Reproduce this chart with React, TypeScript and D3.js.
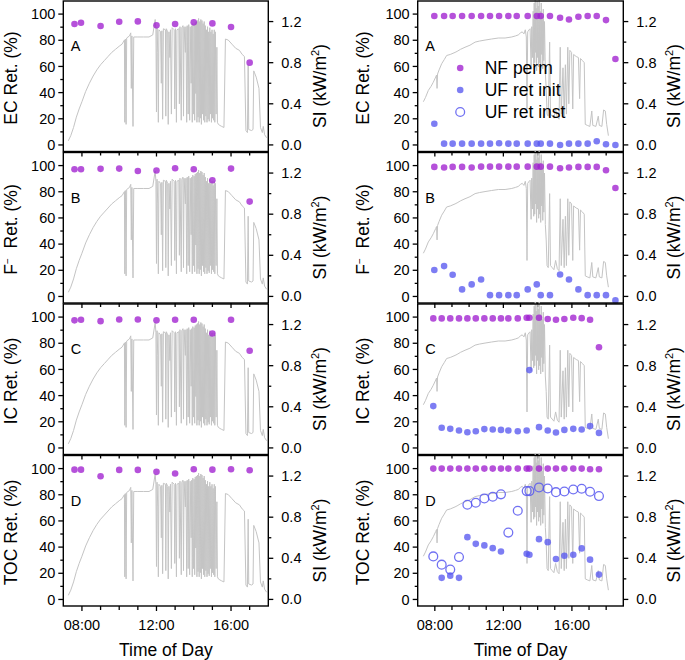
import React from "react";
import * as d3 from "d3";

// ---------- data ----------
// solar irradiance (kW/m2), left day: [hour, SI]
const siLeft: [number, number][] = [
  [7.27, 0.04], [7.4, 0.09], [7.55, 0.17], [7.7, 0.27], [7.85, 0.35], [8.0, 0.42], [8.2, 0.52], [8.4, 0.6],
  [8.6, 0.67], [8.8, 0.73], [9.0, 0.78], [9.2, 0.82], [9.4, 0.86], [9.6, 0.9], [9.8, 0.93], [10.0, 0.96],
  [10.15, 0.98], [10.28, 1.02], [10.3, 0.22], [10.33, 1.03], [10.37, 0.2], [10.4, 1.04], [10.55, 1.06],
  [10.62, 1.09], [10.65, 0.55], [10.68, 1.06], [10.74, 0.18], [10.78, 1.05], [11.0, 1.05], [11.3, 1.05],
  [11.6, 1.05], [11.8, 1.07], [11.93, 1.22], [11.97, 1.12], [12.0, 0.32], [12.03, 1.14], [12.07, 0.9],
  [12.1, 0.22], [12.13, 1.12], [12.22, 1.1], [12.26, 0.6], [12.29, 1.11], [12.33, 0.25], [12.37, 1.13],
  [12.48, 1.12], [12.5, 0.28], [12.53, 1.13], [12.6, 1.1], [12.63, 0.2], [12.67, 1.1], [12.72, 0.85],
  [12.75, 1.12], [12.8, 0.3], [12.84, 1.14], [12.95, 1.12], [12.98, 0.35], [13.02, 1.13], [13.07, 0.22],
  [13.1, 1.12], [13.2, 1.13], [13.23, 0.4], [13.26, 1.15], [13.33, 0.24], [13.36, 1.14], [13.42, 1.16],
  [13.45, 0.28], [13.48, 1.15], [13.55, 0.9], [13.58, 1.15], [13.62, 0.22], [13.65, 1.16], [13.7, 0.3],
  [13.73, 1.17], [13.78, 0.24], [13.81, 1.15], [13.86, 0.6], [13.89, 1.16], [13.92, 0.22], [13.95, 1.18],
  [13.99, 0.3], [14.02, 1.17], [14.05, 0.24], [14.08, 1.19], [14.11, 0.5], [14.14, 1.2], [14.17, 0.22],
  [14.2, 1.21], [14.23, 0.27], [14.26, 1.23], [14.29, 0.22], [14.32, 1.2], [14.35, 0.26], [14.38, 1.22],
  [14.41, 0.2], [14.44, 1.21], [14.47, 0.3], [14.5, 1.18], [14.53, 0.24], [14.56, 1.2], [14.59, 0.22],
  [14.62, 1.16], [14.65, 0.28], [14.68, 1.12], [14.71, 0.22], [14.74, 1.15], [14.77, 0.25], [14.8, 1.1],
  [14.83, 0.23], [14.86, 1.14], [14.89, 0.3], [14.92, 1.1], [14.95, 0.22], [14.98, 1.12], [15.01, 0.26],
  [15.04, 1.08], [15.07, 0.24], [15.1, 1.12], [15.13, 0.22], [15.16, 1.1], [15.2, 0.3], [15.24, 0.95],
  [15.27, 0.22], [15.32, 0.2], [15.4, 0.19], [15.5, 0.18], [15.62, 0.17], [15.7, 1.03], [15.85, 1.02],
  [16.05, 0.98], [16.25, 0.94], [16.45, 0.92], [16.6, 0.88], [16.72, 0.86], [16.8, 0.14], [16.88, 0.12],
  [16.92, 0.78], [16.95, 0.15], [17.1, 0.14], [17.18, 0.15], [17.22, 0.72], [17.35, 0.66], [17.5, 0.55],
  [17.58, 0.17], [17.68, 0.12], [17.73, 0.18], [17.8, 0.1], [17.91, 0.07],
];

// solar irradiance (kW/m2), right day: [hour, SI]
const siRight: [number, number][] = [
  [7.33, 0.42], [7.45, 0.46], [7.62, 0.53], [7.78, 0.57], [7.91, 0.61], [8.05, 0.66], [8.1, 0.68],
  [8.13, 0.55], [8.16, 0.69], [8.25, 0.73], [8.4, 0.79], [8.55, 0.83], [8.69, 0.87], [8.9, 0.88],
  [9.18, 0.9], [9.3, 0.91], [9.5, 0.93], [9.76, 0.95], [10.05, 0.97], [10.35, 1.0], [10.6, 1.01],
  [10.93, 1.02], [11.3, 1.03], [11.71, 1.04], [12.1, 1.04], [12.49, 1.05], [12.7, 1.06], [12.87, 1.07],
  [13.0, 1.09], [13.1, 1.1], [13.2, 1.08], [13.28, 1.12], [13.34, 1.05], [13.38, 0.35], [13.42, 1.1],
  [13.5, 1.12], [13.56, 1.13], [13.62, 0.75], [13.66, 1.15], [13.7, 0.85], [13.74, 1.3], [13.77, 0.78],
  [13.8, 1.38], [13.83, 0.8], [13.86, 1.42], [13.88, 0.9], [13.91, 1.33], [13.94, 0.72], [13.97, 1.4],
  [14.0, 0.85], [14.03, 1.35], [14.06, 0.76], [14.09, 1.42], [14.12, 0.8], [14.15, 1.3], [14.18, 0.72],
  [14.21, 1.38], [14.24, 0.88], [14.27, 1.25], [14.3, 0.74], [14.33, 1.32], [14.36, 0.82], [14.4, 1.2],
  [14.45, 0.7], [14.5, 0.55], [14.55, 0.3], [14.62, 0.28], [14.7, 1.0], [14.75, 0.3], [14.85, 0.28],
  [14.95, 0.26], [15.05, 0.35], [15.15, 0.27], [15.25, 0.25], [15.32, 0.95], [15.38, 0.3], [15.48, 0.75],
  [15.55, 0.28], [15.62, 0.78], [15.68, 0.3], [15.76, 0.95], [15.82, 0.4], [15.88, 0.92], [15.98, 0.9],
  [16.05, 0.35], [16.1, 0.88], [16.25, 0.86], [16.38, 0.85], [16.45, 0.45], [16.5, 0.84], [16.62, 0.82],
  [16.72, 0.8], [16.78, 0.2], [16.9, 0.19], [17.05, 0.18], [17.16, 0.33], [17.22, 0.19], [17.4, 0.18],
  [17.54, 0.28], [17.6, 0.19], [17.75, 0.18], [17.85, 0.34], [17.95, 0.33], [18.03, 0.2], [18.13, 0.09],
];

// left column (single NF series)
const leftTimes = [7.6, 7.95, 9, 10, 11, 12, 13, 14, 15, 16, 17];
const leftEC = [92.4, 93.4, 90.9, 94.2, 94.4, 91.4, 92.4, 93.7, 92.9, 90.1, 62.9];
const leftF = [97.2, 97.2, 97.5, 97.7, 95.9, 96.2, 98.0, 97.2, 88.8, 97.7, 72.5];
const leftIC = [97.5, 98.0, 96.9, 98.2, 98.2, 97.5, 98.0, 98.0, 87.5, 98.0, 74.3];
const leftTOC = [99.2, 99.2, 94.2, 99.0, 99.0, 97.5, 96.2, 99.5, 99.2, 99.5, 98.7];

// right column, panels A and B
const rightABTimes = [7.97, 8.54, 9.04, 9.59, 10.15, 10.7, 11.22, 11.75, 12.29, 12.78, 13.42, 13.95, 14.18,
  14.72, 15.31, 15.83, 16.38, 16.92, 17.45, 17.99, 18.54];
const rightECperm = [98.5, 98.5, 98.5, 98.5, 98.5, 98.5, 98.5, 98.5, 98.5, 98.5, 98.5, 98.5, 98.5,
  98.5, 97.2, 95.9, 98.0, 98.5, 98.5, 95.4, 65.7];
const rightECinit = [16.2, 1.0, 1.0, 1.0, 1.0, 1.0, 1.0, 1.3, 1.0, 1.0, 1.0, 1.0, 1.0,
  1.0, 0.0, 1.0, 1.0, 1.0, 2.8, 0.5, 0.0];
const rightFperm = [99.0, 98.5, 99.0, 99.0, 98.5, 99.2, 99.2, 99.2, 99.2, 99.2, 99.2, 99.2, 99.2,
  99.2, 98.0, 98.5, 99.0, 99.0, 99.0, 96.4, 82.9];
const rightFinit = [20.2, 23.2, 16.6, 5.4, 9.2, 13.0, 1.0, 1.0, 1.0, 1.0, 5.4, 9.2, 1.0,
  1.0, 16.8, 13.0, 5.4, 1.0, 1.0, 1.0, -3.0];

// right column, panels C and D
const rightCDTimes = [7.91, 8.4, 8.9, 9.41, 9.9, 10.39, 10.89, 11.38, 11.86, 12.29, 12.84, 13.36, 13.52,
  14.08, 14.59, 15.07, 15.56, 16.08, 16.57, 17.06, 17.58];
const rightICperm = [99.0, 99.0, 99.0, 99.0, 99.0, 99.0, 99.0, 99.0, 99.0, 99.0, 99.0, 99.5, 99.5,
  99.5, 98.5, 98.0, 98.5, 99.5, 99.2, 98.0, 76.9];
const rightICinit = [32.0, 15.4, 14.6, 13.3, 12.0, 12.8, 14.4, 14.1, 13.8, 13.3, 12.8, 13.3, 59.5,
  15.9, 13.3, 11.8, 13.8, 14.6, 14.1, 16.7, 11.5];
const rightTOCperm = [100, 100, 100, 100, 100, 100, 100, 100, 100, 100, 100, 100, 100,
  100, 100, 100, 100, 100, 100, 99.5, 99.5];
const rightTOCinit = [null, 16.5, 18.2, 16.5, 47.6, 42.5, 41.3, 39.2, 36.7, null, null, 34.9, 34.2,
  46.1, 43.8, 30.9, 33.4, 34.2, 39.0, 30.4, 19.0];
const rightTOCinst = [32.9, 26.6, 22.8, 32.4, 72.4, 73.9, 77.2, 78.5, 80.3, 51.1, 67.8, 82.8, 82.8,
  85.6, 84.8, 82.0, 82.5, 84.0, 84.6, 82.3, 79.0];

const panelLetters = ["A", "B", "C", "D"];
const xTickLabels = ["08:00", "12:00", "16:00"];
const legendLabels = ["NF perm", "UF ret init", "UF ret inst"];

// ---------- styling ----------
const FONT = "Liberation Sans, Arial, Helvetica, sans-serif";
const PURPLE = "#a020d0";
const BLUE = "#5858f0";
const GRAY = "#c4c4c4";
const W = 685;
const H = 660;
const PANEL_H = 150.5;
const PANEL_STEP = 151.5;
const PANEL_TOP0 = 1;

type Series = { values: (number | null)[]; kind: "perm" | "init" | "inst" };

interface PanelSpec {
  ylabel: string;
  letter: string;
  times: number[];
  series: Series[];
}

const leftPanels: PanelSpec[] = [
  { ylabel: "EC Ret. (%)", letter: panelLetters[0], times: leftTimes, series: [{ values: leftEC, kind: "perm" }] },
  { ylabel: "F", letter: panelLetters[1], times: leftTimes, series: [{ values: leftF, kind: "perm" }] },
  { ylabel: "IC Ret. (%)", letter: panelLetters[2], times: leftTimes, series: [{ values: leftIC, kind: "perm" }] },
  { ylabel: "TOC Ret. (%)", letter: panelLetters[3], times: leftTimes, series: [{ values: leftTOC, kind: "perm" }] },
];

const rightPanels: PanelSpec[] = [
  { ylabel: "EC Ret. (%)", letter: panelLetters[0], times: rightABTimes, series: [
    { values: rightECperm, kind: "perm" }, { values: rightECinit, kind: "init" }] },
  { ylabel: "F", letter: panelLetters[1], times: rightABTimes, series: [
    { values: rightFperm, kind: "perm" }, { values: rightFinit, kind: "init" }] },
  { ylabel: "IC Ret. (%)", letter: panelLetters[2], times: rightCDTimes, series: [
    { values: rightICperm, kind: "perm" }, { values: rightICinit, kind: "init" }] },
  { ylabel: "TOC Ret. (%)", letter: panelLetters[3], times: rightCDTimes, series: [
    { values: rightTOCperm, kind: "perm" }, { values: rightTOCinit, kind: "init" }, { values: rightTOCinst, kind: "inst" }] },
];

function Marker({ cx, cy, kind }: { cx: number; cy: number; kind: string }) {
  if (kind === "perm") return <circle cx={cx} cy={cy} r={3.3} fill={PURPLE} fillOpacity={0.78} />;
  if (kind === "init") return <circle cx={cx} cy={cy} r={3.3} fill={BLUE} fillOpacity={0.78} />;
  return <circle cx={cx} cy={cy} r={4.4} fill="none" stroke={BLUE} strokeOpacity={0.85} strokeWidth={1.3} />;
}

function YLabel({ label, x, y }: { label: string; x: number; y: number }) {
  const isF = label === "F";
  return (
    <text transform={`translate(${x},${y}) rotate(-90)`} textAnchor="middle" fontSize={17.5} fontFamily={FONT} fill="#000">
      {isF ? (
        <>
          <tspan>F</tspan>
          <tspan dy={-5.5} fontSize={10}>−</tspan>
          <tspan dy={5.5}>{"\u00a0 Ret. (%)"}</tspan>
        </>
      ) : label}
    </text>
  );
}

function SILabel({ x, y }: { x: number; y: number }) {
  return (
    <text transform={`translate(${x},${y}) rotate(-90)`} textAnchor="middle" fontSize={17.5} fontFamily={FONT} fill="#000">
      <tspan>SI (kW/m</tspan>
      <tspan dy={-7} fontSize={11}>2</tspan>
      <tspan dy={7}>)</tspan>
    </text>
  );
}

function Column({ panels, si, xDomain, x0, x1, hourTicks, legend, yLabelOff, siLabelOff }: {
  panels: PanelSpec[]; si: [number, number][]; xDomain: [number, number]; x0: number; x1: number;
  hourTicks: number[]; legend: boolean; yLabelOff: number; siLabelOff: number;
}) {
  const x = d3.scaleLinear().domain(xDomain).range([x0, x1]);
  const majorHours = [8, 12, 16];
  return (
    <g>
      {panels.map((p, i) => {
        const top = PANEL_TOP0 + PANEL_STEP * i;
        const bottom = top + PANEL_H;
        const y = d3.scaleLinear().domain([-5, 110]).range([bottom, top]);
        const ys = d3.scaleLinear().domain([-0.064, 1.4]).range([bottom, top]);
        const line = d3.line<[number, number]>().x((d) => x(d[0])).y((d) => ys(d[1]));
        const leftMajor = d3.range(0, 101, 20);
        const leftMinor = d3.range(10, 100, 20);
        const rightMajor = [0, 0.4, 0.8, 1.2];
        const rightMinor = [0.2, 0.6, 1.0];
        const isLast = i === panels.length - 1;
        return (
          <g key={i}>
            <path d={line(si) || ""} fill="none" stroke={GRAY} strokeWidth={1} />
            {p.series.map((s, si2) =>
              s.values.map((v, k) =>
                v === null ? null : <Marker key={`${si2}-${k}`} cx={x(p.times[k])} cy={y(v)} kind={s.kind} />
              )
            )}
            <rect x={x0} y={top} width={x1 - x0} height={PANEL_H} fill="none" stroke="#000" strokeWidth={1.4} />
            {leftMajor.map((t) => (
              <g key={`lm${t}`}>
                <line x1={x0} x2={x0 - 5} y1={y(t)} y2={y(t)} stroke="#000" strokeWidth={1.3} />
                <text x={x0 - 8} y={y(t)} dy="0.35em" textAnchor="end" fontSize={14.5} fontFamily={FONT}>{t}</text>
              </g>
            ))}
            {leftMinor.map((t) => (
              <line key={`ln${t}`} x1={x0} x2={x0 - 3} y1={y(t)} y2={y(t)} stroke="#000" strokeWidth={1.3} />
            ))}
            {rightMajor.map((t) => (
              <g key={`rm${t}`}>
                <line x1={x1} x2={x1 + 5} y1={ys(t)} y2={ys(t)} stroke="#000" strokeWidth={1.3} />
                <text x={x1 + 13} y={ys(t)} dy="0.35em" textAnchor="start" fontSize={14.5} fontFamily={FONT}>{t.toFixed(1)}</text>
              </g>
            ))}
            {rightMinor.map((t) => (
              <line key={`rn${t}`} x1={x1} x2={x1 + 3} y1={ys(t)} y2={ys(t)} stroke="#000" strokeWidth={1.3} />
            ))}
            {hourTicks.map((h) => (
              <line key={`bt${h}`} x1={x(h)} x2={x(h)} y1={bottom} y2={bottom + (majorHours.includes(h) ? 5 : 4)} stroke="#000" strokeWidth={1.3} />
            ))}
            {isLast && majorHours.map((h, k) => (
              <text key={`xl${h}`} x={x(h)} y={bottom + 24} textAnchor="middle" fontSize={14.5} fontFamily={FONT}>{xTickLabels[k]}</text>
            ))}
            <text x={x0 + 7.5} y={top + 50} fontSize={14.5} fontFamily={FONT}>{p.letter}</text>
            <YLabel label={p.ylabel} x={x0 - yLabelOff} y={top + 77} />
            <SILabel x={x1 + siLabelOff} y={top + 85} />
            {legend && i === 0 && (
              <g>
                {legendLabels.map((lab, k) => (
                  <g key={lab}>
                    <Marker cx={x0 + 42.5} cy={top + 67 + k * 22} kind={["perm", "init", "inst"][k]} />
                    <text x={x0 + 67} y={top + 67 + k * 22} dy="0.35em" fontSize={17.5} fontFamily={FONT}>{lab}</text>
                  </g>
                ))}
              </g>
            )}
          </g>
        );
      })}
      <text x={(x0 + x1) / 2} y={656} textAnchor="middle" fontSize={17.5} fontFamily={FONT}>Time of Day</text>
    </g>
  );
}

export default function App() {
  return (
    <svg width={W} height={H} style={{ display: "block", position: "absolute", left: 0, top: 0 }}>
      <rect width={W} height={H} fill="#fff" />
      <Column panels={leftPanels} si={siLeft} xDomain={[7, 18]} x0={63.3} x1={268.3}
        hourTicks={d3.range(8, 18)} legend={false} yLabelOff={46.5} siLabelOff={58} />
      <Column panels={rightPanels} si={siRight} xDomain={[7, 19]} x0={417.7} x1={623.3}
        hourTicks={d3.range(8, 19)} legend={true} yLabelOff={49} siLabelOff={57} />
    </svg>
  );
}
